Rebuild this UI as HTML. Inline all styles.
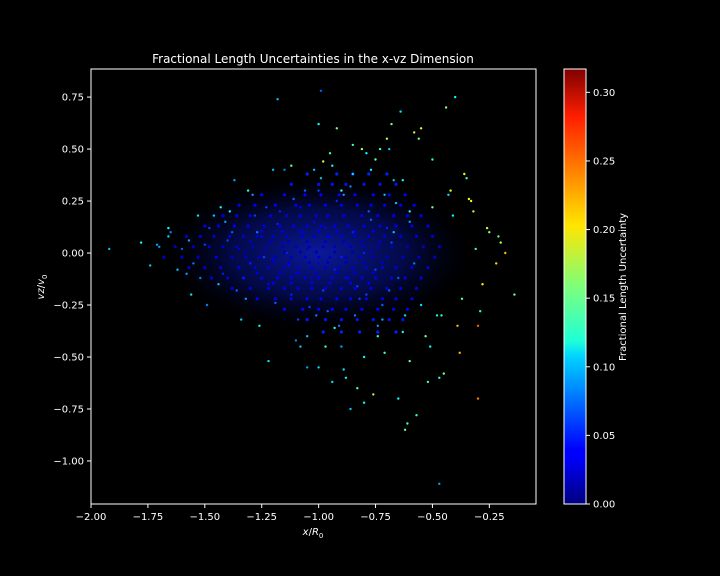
<!DOCTYPE html>
<html><head><meta charset="utf-8"><style>
html,body{margin:0;padding:0;background:#000;}
svg{display:block;font-family:"DejaVu Sans","Liberation Sans",sans-serif;}
</style></head><body>
<svg id="chart" width="720" height="576" viewBox="0 0 720 576" xmlns="http://www.w3.org/2000/svg">
<defs>
<linearGradient id="jet" x1="0" y1="1" x2="0" y2="0">
<stop offset="0" stop-color="#00007f"/><stop offset="0.11" stop-color="#0000ff"/><stop offset="0.125" stop-color="#0000ff"/>
<stop offset="0.34" stop-color="#00d4ff"/><stop offset="0.375" stop-color="#1fffd7"/><stop offset="0.5" stop-color="#7dff7a"/>
<stop offset="0.64" stop-color="#ffe500"/><stop offset="0.66" stop-color="#ffd700"/><stop offset="0.89" stop-color="#ff1e00"/><stop offset="1" stop-color="#7f0000"/>
</linearGradient>
<radialGradient id="glow"><stop offset="0" stop-color="#1024e0" stop-opacity="0.7"/><stop offset="0.55" stop-color="#0818b0" stop-opacity="0.4"/><stop offset="1" stop-color="#000" stop-opacity="0"/></radialGradient>
</defs>
<text x="313" y="63" fill="#fff" font-size="12" text-anchor="middle">Fractional Length Uncertainties in the x-vz Dimension</text>
<g id="plot"></g>
<rect x="91" y="69" width="445" height="435" fill="none" stroke="#fff" stroke-width="1"/>
<text x="313" y="535" fill="#fff" font-size="10" text-anchor="middle"><tspan font-style="italic">x</tspan>/<tspan font-style="italic">R</tspan><tspan font-size="7" dy="3">0</tspan></text>
<text transform="translate(44,287) rotate(-90)" fill="#fff" font-size="10" text-anchor="middle"><tspan font-style="italic">vz</tspan>/<tspan font-style="italic">v</tspan><tspan font-size="7" dy="3">0</tspan></text>
<rect x="564" y="69" width="22" height="435" fill="url(#jet)" stroke="#fff" stroke-width="1"/>
<g id="cbticks"></g>
<text transform="translate(626,287) rotate(-90)" fill="#fff" font-size="10" text-anchor="middle">Fractional Length Uncertainty</text>
</svg>
<script>
const xTicks=[-2.0,-1.75,-1.5,-1.25,-1.0,-0.75,-0.5,-0.25];
const yTicks=[0.75,0.5,0.25,0.0,-0.25,-0.5,-0.75,-1.0];
const cTicks=[0.0,0.05,0.1,0.15,0.2,0.25,0.3];
const xs=[-1.05,-1.0,-0.95,-1.1,-0.9,-1.02,-0.98,-1.15,-0.85,-0.88,-1.2,-1.25,-1.3,-1.35,-1.4,-1.45,-0.8,-0.75,-0.7,-0.78,-0.82,-0.92,-1.08,-1.12,-0.96,-1.0,-0.86,-0.72,-0.68,-0.65,-1.18,-1.22,-1.28,-1.33,-1.38,-1.5,-1.55,-1.6,-1.48,-1.42,-1.03,-0.97,-1.07,-0.93,-1.13,-0.87,-1.17,-0.83,-1.23,-0.77,-1.01,-0.99,-1.04,-0.94,-1.06,-0.91,-1.09,-0.89,-1.11,-0.84,-1.14,-0.79,-1.19,-0.74,-1.24,-0.71,-1.27,-0.69,-1.32,-0.66,-0.62,-0.6,-0.58,-0.63,-0.67,-1.36,-1.41,-1.46,-1.52,-1.57,-1.62,-1.66,-1.7,-1.74,-1.78,-1.65,-1.58,-1.53,-1.44,-1.39,
-1.05,-0.95,-0.9,-0.85,-1.1,-0.8,-0.75,-1.0,-0.92,-0.88,-1.02,-0.98,-0.83,-0.7,-0.65,-0.6,-0.55,-0.5,-0.45,-0.42,-0.38,-0.35,-0.32,-0.3,-0.28,-0.25,-0.22,-0.2,-0.18,-0.14,-0.48,-0.52,-0.57,-0.62,-0.44,-0.4,-0.36,-0.33,-0.3,-0.47,-0.53,-0.58,-0.64,-0.68,-0.73,-0.76,-0.8,-0.86,-0.9,-0.94,-0.97,-1.05,-1.12,-1.2,-1.26,-1.31,-1.37,-0.71,-0.77,-0.81,-0.6,-0.55,-0.5,-0.46,-0.41,-0.37,-0.34,-0.29,-0.26,-0.21,-0.63,-0.67,-0.72,-0.85,-0.93,-1.0,-1.08,-1.15,-1.22,-1.92,-1.71,-1.66,-1.56,-1.49,-1.43,-1.34,-1.29,-1.18,-0.99,-0.89,-0.79,-0.74,-0.69,-0.61,-0.56,-0.51,-0.47,-0.43,-0.39,-0.31];
const vzs=[0.02,-0.05,0.08,-0.1,-0.02,0.15,-0.18,0.05,0.1,-0.12,-0.03,0.08,-0.05,0.02,0.06,-0.02,0.0,-0.08,0.12,0.2,-0.22,0.25,0.22,-0.2,-0.28,0.3,0.32,-0.25,0.05,-0.12,0.14,-0.15,0.18,-0.12,0.1,0.04,-0.05,0.02,0.12,-0.1,-0.12,0.12,0.1,-0.08,-0.06,0.04,0.2,-0.16,0.22,0.16,-0.3,0.36,-0.26,0.42,0.3,-0.35,-0.32,0.28,0.26,-0.3,0.0,-0.2,-0.24,-0.35,-0.02,0.28,0.1,-0.18,-0.22,0.24,-0.3,0.15,-0.05,0.35,0.1,-0.18,0.15,0.18,-0.12,0.06,-0.08,0.08,0.03,-0.06,0.05,0.1,-0.1,0.18,-0.15,0.2,
-0.4,0.48,-0.45,0.52,-0.42,-0.5,0.45,-0.55,0.6,-0.6,0.4,0.44,-0.65,0.55,-0.7,-0.52,0.6,0.45,-0.58,0.3,-0.48,0.36,0.2,-0.35,-0.15,0.1,-0.05,0.05,0.0,-0.2,-0.3,-0.62,-0.78,-0.85,0.7,0.75,0.38,0.25,-0.7,-0.6,-0.4,0.58,0.68,0.62,0.5,-0.68,-0.72,-0.75,0.3,-0.62,-0.45,-0.55,0.42,0.4,-0.35,0.3,0.35,-0.48,0.4,0.5,0.2,-0.25,0.22,-0.3,0.18,-0.22,0.26,-0.28,0.12,0.08,-0.38,0.35,-0.32,0.38,-0.36,0.62,-0.45,0.4,-0.52,0.02,0.04,0.12,-0.2,-0.25,0.22,-0.32,0.28,0.74,0.78,-0.56,0.48,-0.4,0.5,-0.82,0.55,-0.45,-1.11,0.28,-0.35,0.02];
const us=[0.02,0.03,0.04,0.03,0.05,0.04,0.06,0.03,0.05,0.04,0.03,0.04,0.05,0.03,0.06,0.04,0.05,0.06,0.05,0.07,0.06,0.05,0.04,0.05,0.07,0.06,0.08,0.07,0.06,0.07,0.05,0.04,0.06,0.05,0.07,0.06,0.08,0.07,0.06,0.05,0.03,0.04,0.03,0.05,0.04,0.03,0.05,0.06,0.06,0.07,0.08,0.1,0.06,0.12,0.07,0.08,0.06,0.09,0.07,0.08,0.05,0.06,0.07,0.09,0.06,0.1,0.08,0.07,0.09,0.1,0.11,0.09,0.08,0.12,0.1,0.07,0.09,0.1,0.08,0.09,0.1,0.11,0.09,0.1,0.12,0.08,0.09,0.11,0.1,0.12,
0.1,0.13,0.09,0.14,0.08,0.12,0.15,0.11,0.16,0.12,0.1,0.18,0.14,0.17,0.12,0.15,0.2,0.13,0.16,0.19,0.22,0.14,0.18,0.25,0.2,0.16,0.21,0.17,0.22,0.15,0.12,0.14,0.13,0.15,0.16,0.12,0.2,0.19,0.24,0.13,0.16,0.18,0.11,0.15,0.13,0.17,0.12,0.1,0.14,0.11,0.13,0.09,0.15,0.1,0.12,0.13,0.09,0.14,0.12,0.17,0.13,0.11,0.16,0.14,0.12,0.15,0.2,0.13,0.18,0.15,0.12,0.1,0.09,0.11,0.13,0.12,0.1,0.08,0.11,0.1,0.09,0.12,0.11,0.08,0.13,0.1,0.09,0.1,0.07,0.11,0.12,0.13,0.1,0.14,0.15,0.12,0.09,0.11,0.22,0.14];
/* dense core: one vz level per row, x positions per row, one uncertainty per row */
const coreRowVz=[0.38,0.33,0.28,0.23,0.18,0.13,0.08,0.03,-0.02,-0.07,-0.12,-0.17,-0.22,-0.27,-0.32,-0.38,0.055,0.005,-0.045,-0.095,0.105,-0.145];
const coreRowU=[0.05,0.045,0.04,0.035,0.03,0.03,0.025,0.02,0.02,0.025,0.03,0.03,0.035,0.04,0.045,0.05,0.02,0.015,0.02,0.025,0.03,0.03];
const coreRowX=[
[-1.05,-0.92,-0.85,-0.78,-0.7],
[-1.12,-1.0,-0.94,-0.88,-0.8,-0.73,-0.66],
[-1.25,-1.15,-1.06,-0.99,-0.91,-0.84,-0.76,-0.69,-0.62],
[-1.35,-1.28,-1.19,-1.1,-1.04,-0.97,-0.9,-0.83,-0.77,-0.71,-0.64,-0.58],
[-1.42,-1.36,-1.3,-1.21,-1.14,-1.08,-1.01,-0.96,-0.89,-0.81,-0.74,-0.67,-0.61,-0.55],
[-1.5,-1.44,-1.37,-1.31,-1.24,-1.17,-1.11,-1.05,-0.99,-0.93,-0.87,-0.8,-0.73,-0.66,-0.59,-0.52],
[-1.58,-1.52,-1.46,-1.39,-1.33,-1.27,-1.2,-1.14,-1.07,-1.02,-0.96,-0.9,-0.84,-0.78,-0.71,-0.64,-0.57,-0.5],
[-1.63,-1.55,-1.48,-1.42,-1.36,-1.29,-1.23,-1.16,-1.1,-1.04,-0.98,-0.93,-0.86,-0.8,-0.74,-0.68,-0.61,-0.54,-0.47],
[-1.68,-1.6,-1.53,-1.45,-1.38,-1.32,-1.26,-1.19,-1.12,-1.06,-1.0,-0.95,-0.88,-0.82,-0.76,-0.7,-0.63,-0.56,-0.49],
[-1.57,-1.5,-1.43,-1.35,-1.28,-1.22,-1.15,-1.09,-1.03,-0.97,-0.91,-0.85,-0.79,-0.72,-0.66,-0.59,-0.52],
[-1.47,-1.4,-1.33,-1.25,-1.18,-1.12,-1.06,-1.0,-0.94,-0.87,-0.81,-0.75,-0.68,-0.62,-0.55],
[-1.38,-1.3,-1.22,-1.15,-1.09,-1.03,-0.97,-0.9,-0.84,-0.77,-0.7,-0.64,-0.57],
[-1.27,-1.19,-1.12,-1.05,-0.99,-0.92,-0.86,-0.79,-0.72,-0.66,-0.59],
[-1.15,-1.07,-1.0,-0.94,-0.88,-0.81,-0.74,-0.67,-0.61],
[-1.05,-0.97,-0.9,-0.83,-0.76,-0.69,-0.63],
[-0.98,-0.9,-0.82,-0.74,-0.66],
[-1.3,-1.21,-1.13,-1.05,-0.97,-0.89,-0.81,-0.73],
[-1.32,-1.24,-1.15,-1.08,-1.01,-0.93,-0.85,-0.77],
[-1.3,-1.2,-1.13,-1.04,-0.96,-0.88,-0.8,-0.72],
[-1.27,-1.17,-1.09,-1.01,-0.92,-0.84,-0.76],
[-1.25,-1.16,-1.08,-1.0,-0.92,-0.84,-0.76],
[-1.2,-1.12,-1.03,-0.95,-0.86,-0.78]];
const NS="http://www.w3.org/2000/svg";
const X0=91,X1=536,Y0=69,Y1=504,xmin=-2.0,xmax=-0.045,ymin=-1.207,ymax=0.885,cmax=0.317;
const sx=v=>X0+(v-xmin)/(xmax-xmin)*(X1-X0);
const sy=v=>Y1-(v-ymin)/(ymax-ymin)*(Y1-Y0);
const sc=v=>Y1-v/cmax*(Y1-Y0);
function jet(t){t=Math.max(0,Math.min(1,t));const f=x=>Math.round(255*Math.max(0,Math.min(1,x)));
return `rgb(${f(1.5-Math.abs(4*t-3))},${f(1.5-Math.abs(4*t-2))},${f(1.5-Math.abs(4*t-1))})`;}
const svg=document.getElementById('chart'),plot=document.getElementById('plot'),cb=document.getElementById('cbticks');
function mk(tag,attrs,parent){const e=document.createElementNS(NS,tag);for(const k in attrs)e.setAttribute(k,attrs[k]);parent.appendChild(e);return e;}
const glow=mk('ellipse',{cx:sx(-1.0),cy:sy(0.0),rx:160,ry:80,fill:'url(#glow)'},plot);


coreRowX.forEach((row,r)=>{row.forEach(x=>{
 const c=mk('circle',{cx:sx(x).toFixed(1),cy:sy(coreRowVz[r]).toFixed(1),r:1.6,fill:jet(coreRowU[r]/cmax)},plot);
 
 
});});
for(let i=0;i<xs.length;i++){
 const c=mk('circle',{cx:sx(xs[i]).toFixed(1),cy:sy(vzs[i]).toFixed(1),r:1.2,fill:jet(us[i]/cmax)},plot);
 
 
}
xTicks.forEach(v=>{const x=sx(v);
 const l=mk('line',{x1:x,x2:x,y1:Y1,y2:Y1+4,stroke:'#fff'},svg);
 
 
 const t=mk('text',{x:x,y:Y1+16,fill:'#fff','font-size':10,'text-anchor':'middle'},svg);t.textContent=(v<0?'\u2212':'')+Math.abs(v).toFixed(2);
 
 
});
yTicks.forEach(v=>{const y=sy(v);
 const l=mk('line',{x1:X0-4,x2:X0,y1:y,y2:y,stroke:'#fff'},svg);
 
 
 const t=mk('text',{x:X0-7,y:y+3.5,fill:'#fff','font-size':10,'text-anchor':'end'},svg);t.textContent=(v<0?'\u2212':'')+Math.abs(v).toFixed(2);
 
 
});
cTicks.forEach(v=>{const y=sc(v);
 const l=mk('line',{x1:586,x2:590,y1:y,y2:y,stroke:'#fff'},cb);
 
 
 const t=mk('text',{x:593,y:y+3.5,fill:'#fff','font-size':10},cb);t.textContent=v.toFixed(2);
 
 
});
</script>
</body></html>
